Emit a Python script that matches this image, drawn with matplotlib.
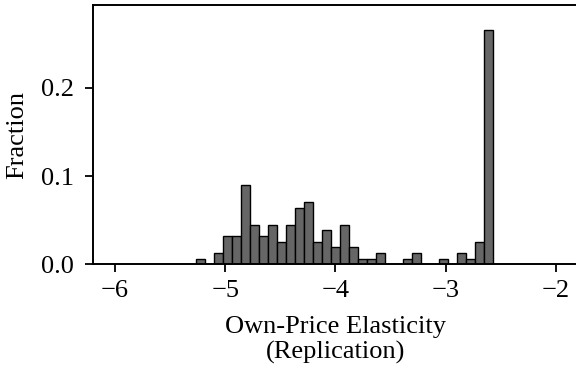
import numpy as np
import matplotlib.pyplot as plt

plt.rcParams['font.family'] = ['Liberation Serif', 'DejaVu Serif']
plt.rcParams['axes.unicode_minus'] = True

# Histogram of replicated own-price elasticities (33 equal-width bins)
bin_lo, bin_hi, n_bins = -5.264, -2.569, 33
fraction = [
    0.0064, 0.0, 0.0128, 0.0321, 0.0321, 0.0897, 0.0449, 0.0321, 0.0449, 0.0256,
    0.0449, 0.0641, 0.0705, 0.0256, 0.0385, 0.0192, 0.0449, 0.0192, 0.0064, 0.0064,
    0.0128, 0.0, 0.0, 0.0064, 0.0128, 0.0, 0.0, 0.0064, 0.0, 0.0128,
    0.0064, 0.0256, 0.266,
]
x_ticks = [-6, -5, -4, -3, -2]
y_ticks = [0.0, 0.1, 0.2]

edges = np.linspace(bin_lo, bin_hi, n_bins + 1)
width = edges[1] - edges[0]

fig = plt.figure(figsize=(5.76, 3.75), dpi=100)
ax = fig.add_axes([0.1615, 0.295, 0.8415, 0.6917])

ax.bar(edges[:-1], fraction, width=width, align='edge',
       color='#666666', edgecolor='black', linewidth=1.0)

ax.set_xlim(-6.2, -1.8)
ax.set_ylim(0, 0.294)
ax.set_xticks(x_ticks)
ax.set_yticks(y_ticks)
ax.set_yticklabels([f"{v:.1f}" for v in y_ticks])

for side in ['left', 'right', 'top', 'bottom']:
    ax.spines[side].set_linewidth(1.4)
ax.tick_params(direction='out', length=6, width=1.3, labelsize=19, pad=5)
ax.tick_params(axis='y', pad=8)

ax.set_xlabel('Own-Price Elasticity\n(Replication)', fontsize=19,
              linespacing=1.2, labelpad=10)
ax.set_ylabel('Fraction', fontsize=19, labelpad=9)

fig.savefig('out.png', dpi=100)
